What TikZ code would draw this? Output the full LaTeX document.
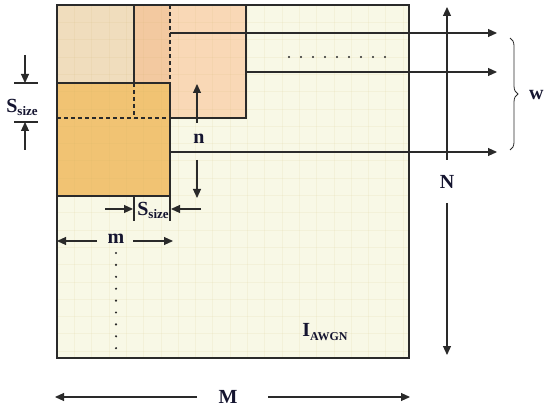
\documentclass[tikz,border=0pt]{standalone}
\usepackage{fontspec}
\setmainfont{Liberation Serif}
\usetikzlibrary{arrows.meta,decorations.pathreplacing}
\definecolor{bg}{HTML}{F8F8E6}
\definecolor{tan}{HTML}{F0DDBD}
\definecolor{midor}{HTML}{F3C9A0}
\definecolor{lightor}{HTML}{F9D8B6}
\definecolor{darkor}{HTML}{F1C373}
\definecolor{ink}{HTML}{151530}
\definecolor{lc}{HTML}{2A2A2A}
\definecolor{gridc}{HTML}{C8B060}
\begin{document}
\begin{tikzpicture}[x=1pt,y=-1pt,
  line/.style={draw=lc,line width=1.1pt},
  dline/.style={draw=lc,line width=1.1pt,dash pattern=on 4pt off 3pt},
  arr/.style={draw=lc,line width=1.1pt,-{Triangle[length=9pt,width=8pt]}},
  lbl/.style={inner sep=0pt,text=ink,font=\bfseries\fontsize{20}{20}\selectfont},
  dotc/.style={fill=lc}]
\useasboundingbox (0,0) rectangle (548,411);
% main image
\fill[bg] (57,5) rectangle (409,358);
\fill[tan] (57,5) rectangle (134,83);
\fill[midor] (134,5) rectangle (170,83);
\fill[lightor] (170,5) rectangle (246,118);
\fill[darkor] (57,83) rectangle (170,196);
% faint grid
\foreach \gx in {74.3,91.6,...,408}{\draw[gridc,draw opacity=0.09,line width=0.5pt] (\gx,5) -- (\gx,358);}
\foreach \gy in {22.3,39.6,...,357}{\draw[gridc,draw opacity=0.09,line width=0.5pt] (57,\gy) -- (409,\gy);}
% borders
\draw[line] (57,5) rectangle (134,83);
\draw[line] (134,5) -- (134,83);
\draw[line] (170,83) -- (170,118) -- (246,118) -- (246,5);
\draw[line] (57,83) rectangle (170,196);
\draw[dline] (170,5) -- (170,83);
\draw[dline] (134,83) -- (134,118);
\draw[dline] (57,118) -- (170,118);
\draw[lc,line width=1.3pt] (57,5) rectangle (409,358);
% row arrows
\coordinate (r1s) at (170,33); \coordinate (r1e) at (497,33);
\coordinate (r2s) at (246,72); \coordinate (r2e) at (497,72);
\coordinate (r3s) at (170,152); \coordinate (r3e) at (497,152);
\draw[arr] (r1s) -- (r1e);
\draw[arr] (r2s) -- (r2e);
\draw[arr] (r3s) -- (r3e);
\foreach \i in {0,...,8}{\fill[dotc] (289+\i*12,57) circle (1.2pt);}
% brace and w
\coordinate (b1) at (510,38); \coordinate (b2) at (510,150);
\draw[lc,line width=0.8pt,decorate,decoration={brace,amplitude=8pt}] (b1) -- (b2);
\node[lbl,anchor=west] (w) at (529,95) {w};
% N axis
\node[lbl] (N) at (447,182) {N};
\coordinate (nt) at (447,7); \coordinate (nb) at (447,355);
\draw[arr] (447,160) -- (nt);
\draw[arr] (447,203) -- (nb);
% M axis
\node[lbl] (M) at (228,397) {M};
\coordinate (ml) at (55,397); \coordinate (mr) at (410,397);
\draw[arr] (197,397) -- (ml);
\draw[arr] (268,397) -- (mr);
% n
\node[lbl] (n) at (199,139) {n};
\coordinate (nu) at (197,84); \coordinate (nd) at (197,198);
\draw[arr] (197,123) -- (nu);
\draw[arr] (197,160) -- (nd);
% S size left
\node[lbl] (sl) at (22,107) {S\raisebox{-3pt}{\fontsize{13}{13}\selectfont size}};
\draw[line] (14,83) -- (38,83);
\draw[line] (14,122) -- (38,122);
\coordinate (sla) at (25,83); \coordinate (slb) at (25,122);
\draw[arr] (25,55) -- (sla);
\draw[arr] (25,150) -- (slb);
% S size bottom
\node[lbl] (sb) at (153,210) {S\raisebox{-3pt}{\fontsize{13}{13}\selectfont size}};
\draw[line] (134,196) -- (134,221);
\draw[line] (170,196) -- (170,221);
\coordinate (sba) at (133,209); \coordinate (sbb) at (171,209);
\draw[arr] (105,209) -- (sba);
\draw[arr] (201,209) -- (sbb);
% m
\node[lbl] (m) at (116,239) {m};
\coordinate (mla) at (57,241); \coordinate (mlb) at (173,241);
\draw[arr] (97,241) -- (mla);
\draw[arr] (133,241) -- (mlb);
\foreach \i in {0,...,8}{\fill[dotc] (116,253+\i*11.9) circle (1.2pt);}
% I AWGN
\node[lbl] (iawgn) at (325,332) {I\raisebox{-4pt}{\fontsize{12}{12}\selectfont AWGN}};
\end{tikzpicture}
\end{document}
